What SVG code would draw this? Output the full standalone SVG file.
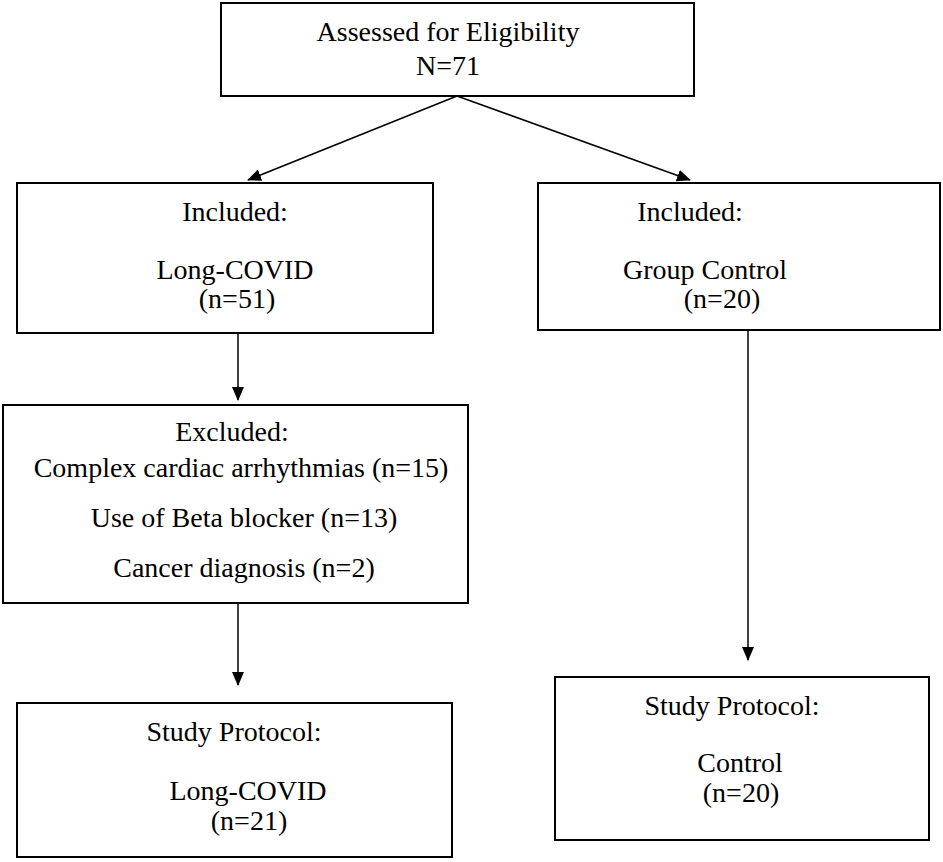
<svg xmlns="http://www.w3.org/2000/svg" width="943" height="862" viewBox="0 0 943 862">
<style>
rect{fill:#fff;stroke:#000;stroke-width:2}
text{font-family:"Liberation Serif",serif;font-size:28px;fill:#000;text-anchor:middle}
line{stroke:#000;stroke-width:1.5}
</style>
<defs><marker id="a" markerWidth="14" markerHeight="14" refX="13" refY="6" orient="auto" markerUnits="userSpaceOnUse" viewBox="0 0 14 12"><path d="M0,0 L14,6 L0,12 z" fill="#000"/></marker></defs>
<rect width="943" height="862" style="stroke:none"/>
<g id="connectors">
<line x1="457" y1="96" x2="248" y2="180" marker-end="url(#a)"/>
<line x1="457" y1="96" x2="690" y2="180" marker-end="url(#a)"/>
<line x1="238" y1="333" x2="238" y2="400" marker-end="url(#a)"/>
<line x1="238" y1="603" x2="238" y2="685" marker-end="url(#a)"/>
<line x1="748" y1="330" x2="748" y2="660" marker-end="url(#a)"/>
</g>
<g id="n1"><rect x="221" y="3" width="473" height="93"/><text x="448" y="41">Assessed for Eligibility</text><text x="448" y="75">N=71</text></g>
<g id="n2"><rect x="17" y="183" width="416" height="150"/><text x="235" y="221">Included:</text><text x="235" y="279">Long-COVID</text><text x="237" y="308">(n=51)</text></g>
<g id="n3"><rect x="538" y="183" width="402" height="147"/><text x="690" y="221">Included:</text><text x="705" y="279">Group Control</text><text x="722" y="308">(n=20)</text></g>
<g id="n4"><rect x="3" y="405" width="465" height="198"/><text x="232" y="441">Excluded:</text><text x="241" y="477">Complex cardiac arrhythmias (n=15)</text><text x="244" y="527">Use of Beta blocker (n=13)</text><text x="244" y="577">Cancer diagnosis (n=2)</text></g>
<g id="n5"><rect x="17" y="703" width="435" height="154"/><text x="234" y="741">Study Protocol:</text><text x="248" y="800">Long-COVID</text><text x="249" y="830">(n=21)</text></g>
<g id="n6"><rect x="555" y="677" width="374" height="163"/><text x="732" y="715">Study Protocol:</text><text x="740" y="772">Control</text><text x="741" y="802">(n=20)</text></g>
</svg>
